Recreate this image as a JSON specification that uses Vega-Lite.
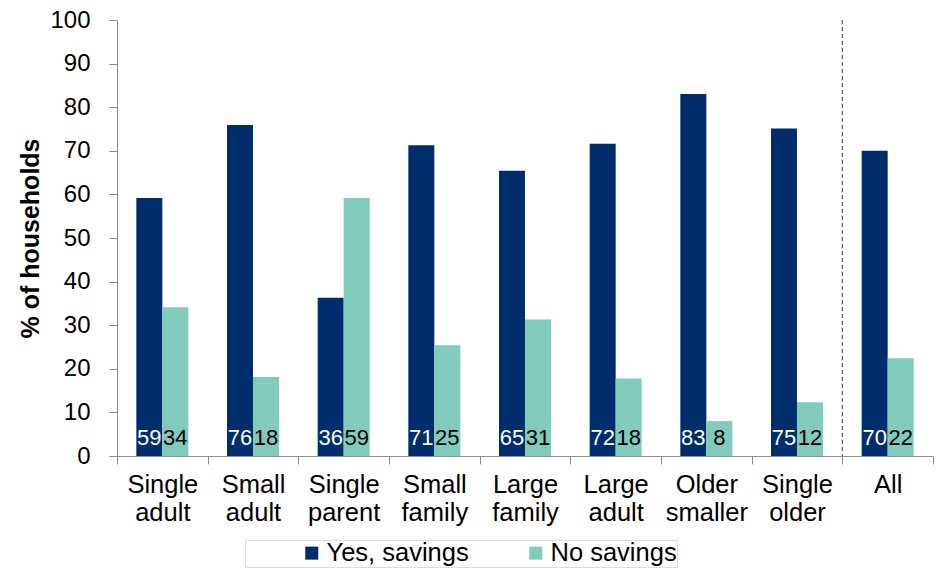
{
  "$schema": "https://vega.github.io/schema/vega-lite/v6.json",
  "width": 816,
  "height": 436,
  "autosize": {"type": "none"},
  "padding": {"left": 117, "top": 20, "right": 6, "bottom": 112},
  "background": "white",
  "config": {"view": {"stroke": null}, "font": "Liberation Sans"},
  "data": {
    "values": [
      {"category": "Single adult", "series": "Yes, savings", "value": 59.2},
      {"category": "Single adult", "series": "No savings", "value": 34.1},
      {"category": "Small adult", "series": "Yes, savings", "value": 75.9},
      {"category": "Small adult", "series": "No savings", "value": 18.1},
      {"category": "Single parent", "series": "Yes, savings", "value": 36.3},
      {"category": "Single parent", "series": "No savings", "value": 59.2},
      {"category": "Small family", "series": "Yes, savings", "value": 71.3},
      {"category": "Small family", "series": "No savings", "value": 25.4},
      {"category": "Large family", "series": "Yes, savings", "value": 65.4},
      {"category": "Large family", "series": "No savings", "value": 31.3},
      {"category": "Large adult", "series": "Yes, savings", "value": 71.6},
      {"category": "Large adult", "series": "No savings", "value": 17.8},
      {"category": "Older smaller", "series": "Yes, savings", "value": 83.0},
      {"category": "Older smaller", "series": "No savings", "value": 8.0},
      {"category": "Single older", "series": "Yes, savings", "value": 75.1},
      {"category": "Single older", "series": "No savings", "value": 12.3},
      {"category": "All", "series": "Yes, savings", "value": 70.0},
      {"category": "All", "series": "No savings", "value": 22.4}
    ]
  },
  "encoding": {
    "x": {
      "field": "category",
      "type": "nominal",
      "sort": ["Single adult", "Small adult", "Single parent", "Small family", "Large family", "Large adult", "Older smaller", "Single older", "All"],
      "scale": {"paddingInner": 0, "paddingOuter": 0},
      "axis": {
        "title": null,
        "labelAngle": 0,
        "tickBand": "extent",
        "labelExpr": "split(datum.label, ' ')",
        "labelFontSize": 25.5,
        "labelLineHeight": 28,
        "labelPadding": 8,
        "labelColor": "black",
        "tickSize": 8,
        "domainColor": "#8c8c8c",
        "tickColor": "#8c8c8c"
      }
    }
  },
  "layer": [
    {
      "mark": {"type": "bar"},
      "encoding": {
        "xOffset": {"field": "series", "type": "nominal", "sort": ["Yes, savings", "No savings"], "scale": {"paddingInner": 0, "paddingOuter": 0.744}},
        "y": {
          "field": "value",
          "type": "quantitative",
          "scale": {"domain": [0, 100], "nice": false},
          "axis": {
            "title": "% of households",
            "titleFontSize": 25,
            "titleFontWeight": "bold",
            "titleColor": "black",
            "titlePadding": 6,
            "labelFontSize": 24,
            "labelColor": "black",
            "labelPadding": 19,
            "values": [0, 10, 20, 30, 40, 50, 60, 70, 80, 90, 100],
            "grid": false,
            "tickSize": 8,
            "domainColor": "#8c8c8c",
            "tickColor": "#8c8c8c"
          }
        },
        "color": {
          "field": "series",
          "type": "nominal",
          "sort": ["Yes, savings", "No savings"],
          "scale": {"domain": ["Yes, savings", "No savings"], "range": ["#002D6C", "#80CBBB"]},
          "legend": {
            "orient": "none",
            "legendX": 128,
            "legendY": 520,
            "direction": "horizontal",
            "title": null,
            "symbolType": "square",
            "symbolSize": 169,
            "symbolStrokeWidth": 0,
            "symbolOffset": 54,
            "labelFontSize": 25.5,
            "labelColor": "black",
            "labelOffset": 2,
            "columnPadding": -2,
            "strokeColor": "#dddddd",
            "padding": 0
          }
        }
      }
    },
    {
      "mark": {"type": "text", "baseline": "alphabetic", "dy": -11, "fontSize": 22, "align": "center"},
      "encoding": {
        "xOffset": {"field": "series", "type": "nominal", "sort": ["Yes, savings", "No savings"], "scale": {"paddingInner": 0, "paddingOuter": 0.744}},
        "y": {"datum": 0, "type": "quantitative"},
        "text": {"field": "value", "type": "quantitative", "format": ".0f"},
        "color": {"condition": {"test": "datum.series === 'Yes, savings'", "value": "white"}, "value": "black"}
      }
    },
    {
      "data": {"values": [{"category": "All"}]},
      "mark": {"type": "rule", "strokeDash": [4, 3], "color": "#555555", "strokeWidth": 1.2},
      "encoding": {
        "x": {
          "field": "category",
          "type": "nominal",
          "sort": ["Single adult", "Small adult", "Single parent", "Small family", "Large family", "Large adult", "Older smaller", "Single older", "All"],
          "bandPosition": 0
        },
        "y": {"datum": 100, "type": "quantitative"},
        "y2": {"datum": 0}
      }
    }
  ]
}
